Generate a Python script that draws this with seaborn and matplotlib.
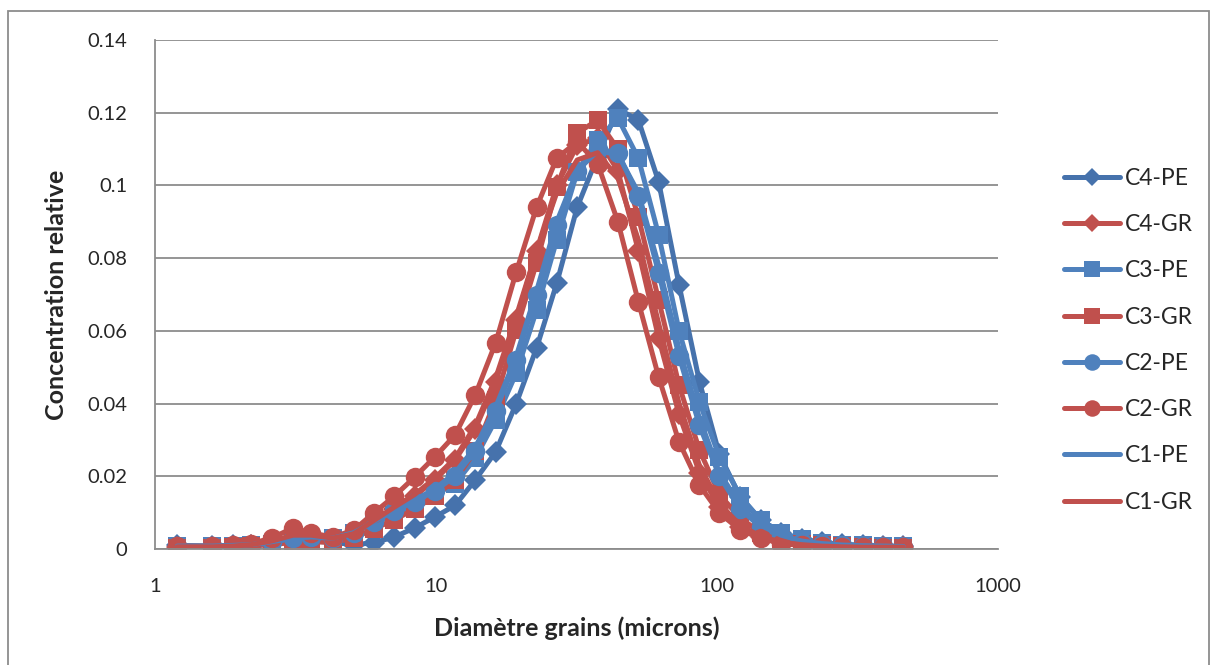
import matplotlib
matplotlib.use("Agg")
import matplotlib.pyplot as plt
import seaborn as sns
from matplotlib.patches import Rectangle

# grain diameter classes (microns)
diameters = [1.2, 1.6, 1.9, 2.2, 2.6, 3.1, 3.6, 4.3, 5.1, 6.0, 7.1, 8.4, 9.9, 11.7,
             13.8, 16.3, 19.3, 22.8, 26.9, 31.8, 37.6, 44.4, 52.5, 62, 73.3, 86.6,
             102, 121, 143, 169, 200, 236, 279, 330, 390, 460]

c4_pe = [0.001, 0.0008, 0.001, 0.001, 0.0015, 0.002, 0.0022, 0.0018, 0.0012, 0.0017,
         0.0033, 0.0058, 0.0088, 0.012, 0.019, 0.0267, 0.040, 0.0553, 0.0731, 0.094,
         0.108, 0.121, 0.118, 0.101, 0.0726, 0.046, 0.026, 0.0143, 0.008, 0.0045,
         0.0027, 0.0018, 0.0013, 0.001, 0.0008, 0.0007]
c4_gr = [0.0005, 0.0005, 0.0007, 0.001, 0.0018, 0.003, 0.003, 0.0025, 0.004, 0.0075,
         0.011, 0.0145, 0.019, 0.0245, 0.033, 0.046, 0.063, 0.082, 0.1, 0.111,
         0.113, 0.104, 0.082, 0.058, 0.037, 0.021, 0.0115, 0.006, 0.0033, 0.0018,
         0.0011, 0.0008, 0.0006, 0.0005, 0.0005, 0.0005]
c3_pe = [0.0007, 0.0007, 0.0008, 0.001, 0.0015, 0.0025, 0.003, 0.003, 0.0045, 0.007,
         0.0094, 0.0116, 0.0149, 0.018, 0.025, 0.0355, 0.0484, 0.0657, 0.085, 0.1037,
         0.1125, 0.1185, 0.1075, 0.0864, 0.06, 0.0404, 0.0253, 0.0145, 0.008, 0.0045,
         0.0027, 0.0017, 0.0012, 0.001, 0.0008, 0.0007]
c3_gr = [0.0003, 0.0003, 0.0005, 0.0008, 0.0012, 0.0018, 0.002, 0.0018, 0.003, 0.0055,
         0.008, 0.011, 0.0145, 0.019, 0.027, 0.041, 0.0602, 0.0787, 0.0996, 0.1144,
         0.118, 0.11, 0.0913, 0.0685, 0.045, 0.0272, 0.015, 0.0085, 0.0045, 0.0025,
         0.0015, 0.001, 0.0007, 0.0005, 0.0004, 0.0004]
c2_pe = [0.0007, 0.0007, 0.0008, 0.001, 0.0018, 0.003, 0.0032, 0.003, 0.0045, 0.0075,
         0.0105, 0.013, 0.016, 0.02, 0.027, 0.038, 0.052, 0.07, 0.089, 0.104,
         0.110, 0.109, 0.097, 0.076, 0.053, 0.034, 0.02, 0.011, 0.006, 0.0035,
         0.002, 0.0014, 0.001, 0.0008, 0.0007, 0.0006]
c2_gr = [0.0008, 0.0008, 0.001, 0.0015, 0.003, 0.0058, 0.0044, 0.0033, 0.0052, 0.0099,
         0.0145, 0.0198, 0.0253, 0.0314, 0.0424, 0.0567, 0.0762, 0.094, 0.1075, 0.112,
         0.106, 0.090, 0.068, 0.0473, 0.0294, 0.0176, 0.0099, 0.0052, 0.003, 0.0015,
         0.001, 0.0008, 0.0006, 0.0005, 0.0005, 0.0005]
c1_pe = [0.0008, 0.0008, 0.001, 0.0012, 0.002, 0.003, 0.0033, 0.003, 0.0045, 0.0075,
         0.0105, 0.0135, 0.0165, 0.021, 0.028, 0.039, 0.053, 0.071, 0.09, 0.104,
         0.1095, 0.1085, 0.098, 0.078, 0.055, 0.036, 0.021, 0.012, 0.0065, 0.0038,
         0.0022, 0.0015, 0.0011, 0.0009, 0.0008, 0.0007]
c1_gr = [0.0006, 0.0006, 0.0008, 0.0012, 0.0022, 0.0038, 0.0038, 0.003, 0.0042, 0.0078,
         0.0115, 0.015, 0.0195, 0.025, 0.034, 0.047, 0.064, 0.082, 0.098, 0.107,
         0.109, 0.102, 0.085, 0.062, 0.04, 0.023, 0.0125, 0.0065, 0.0035, 0.0019,
         0.0012, 0.0008, 0.0006, 0.0005, 0.0005, 0.0005]

series_names = ["C4-PE", "C4-GR", "C3-PE", "C3-GR", "C2-PE", "C2-GR", "C1-PE", "C1-GR"]
series_values = [c4_pe, c4_gr, c3_pe, c3_gr, c2_pe, c2_gr, c1_pe, c1_gr]

y_ticks = [0, 0.02, 0.04, 0.06, 0.08, 0.1, 0.12, 0.14]
y_labels = ["0", "0.02", "0.04", "0.06", "0.08", "0.1", "0.12", "0.14"]
x_ticks = [1, 10, 100, 1000]
x_labels = ["1", "10", "100", "1000"]

BLUE = "#4F81BD"
DARK_BLUE = "#4672AC"
RED = "#C0504D"

STYLES = {
    "C4-PE": (DARK_BLUE, "D", 11),
    "C4-GR": (RED, "D", 11),
    "C3-PE": (BLUE, "s", 13),
    "C3-GR": (RED, "s", 13),
    "C2-PE": (BLUE, "o", 14),
    "C2-GR": (RED, "o", 14),
    "C1-PE": (BLUE, None, 0),
    "C1-GR": (RED, None, 0),
}


def main() -> None:
    sns.set_style("white")
    plt.rcParams["font.family"] = ["Lato", "DejaVu Sans"]

    fig = plt.figure(figsize=(12.14, 6.65), dpi=100)
    ax = fig.add_axes([155 / 1214, 1 - 549 / 665, (998 - 155) / 1214, (549 - 40) / 665])

    for name, values in zip(series_names, series_values):
        color, marker, msize = STYLES[name]
        kw = dict(marker=marker, markersize=msize, markeredgewidth=0) if marker else {}
        sns.lineplot(x=diameters, y=values, ax=ax, color=color, linewidth=3.6,
                     label=name, sort=False, **kw)

    ax.set_xscale("log")
    ax.set_xlim(1, 1000)
    ax.set_ylim(0, 0.14)
    ax.set_xticks(x_ticks)
    ax.set_xticklabels(x_labels)
    ax.minorticks_off()
    ax.set_yticks(y_ticks)
    ax.set_yticklabels(y_labels)
    ax.tick_params(axis="x", labelsize=14.5, length=0, pad=21)
    ax.tick_params(axis="y", labelsize=14.5, length=0, pad=20)

    ax.yaxis.grid(True, color="#8C8C8C", linewidth=1.3)
    ax.xaxis.grid(False)
    ax.set_axisbelow(True)
    for side in ["top", "right"]:
        ax.spines[side].set_visible(False)
    for side in ["left", "bottom"]:
        ax.spines[side].set_color("#8C8C8C")
        ax.spines[side].set_linewidth(1.3)

    ax.set_xlabel("Diamètre grains (microns)", fontsize=18, fontweight="bold", labelpad=15)
    ax.set_ylabel("Concentration relative", fontsize=18, fontweight="bold", labelpad=14)

    handles, labels = ax.get_legend_handles_labels()
    ax.legend(handles, labels, loc="center left", bbox_to_anchor=(1.054, 0.41),
              frameon=False, fontsize=16.5, labelspacing=1.1, handlelength=2.45,
              handletextpad=0.2, numpoints=1, markerscale=0.85)

    # outer chart border
    fig.patches.append(Rectangle((8 / 1214, -0.05), (1209 - 8) / 1214, 1.05 - 11 / 665,
                                 transform=fig.transFigure, fill=False,
                                 edgecolor="#8C8C8C", linewidth=1.3))

    fig.savefig("out.png", dpi=100)
    plt.close(fig)


if __name__ == "__main__":
    main()
